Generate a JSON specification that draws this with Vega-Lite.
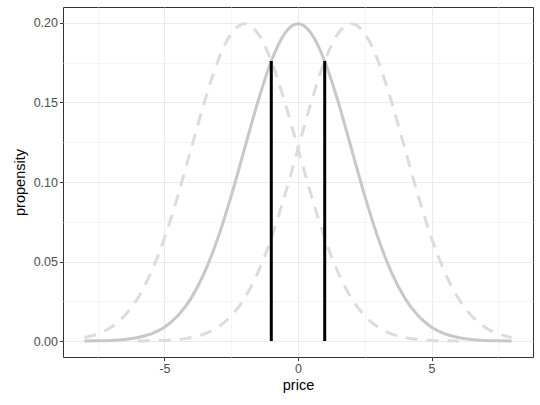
{
  "$schema": "https://vega.github.io/schema/vega-lite/v6.json",
  "width": 470,
  "height": 350,
  "autosize": "none",
  "padding": {"left": 63, "top": 7, "right": 7, "bottom": 48},
  "background": "white",
  "config": {
    "view": {"stroke": "#333333", "strokeWidth": 1},
    "font": "Liberation Sans",
    "axis": {
      "domain": false,
      "labelFont": "Liberation Sans",
      "titleFont": "Liberation Sans",
      "labelFontSize": 12.5,
      "labelColor": "#4d4d4d",
      "titleFontSize": 14.5,
      "titleFontWeight": "normal",
      "titleColor": "#000000",
      "tickColor": "#333333",
      "tickSize": 3.5,
      "labelPadding": 2
    }
  },
  "datasets": {
    "curves": [
      {"x": -8, "y": 0.00007, "s": "center"},
      {"x": -7.5, "y": 0.00018, "s": "center"},
      {"x": -7, "y": 0.00044, "s": "center"},
      {"x": -6.5, "y": 0.00102, "s": "center"},
      {"x": -6, "y": 0.00222, "s": "center"},
      {"x": -5.5, "y": 0.00455, "s": "center"},
      {"x": -5, "y": 0.00876, "s": "center"},
      {"x": -4.5, "y": 0.01587, "s": "center"},
      {"x": -4, "y": 0.027, "s": "center"},
      {"x": -3.5, "y": 0.04314, "s": "center"},
      {"x": -3, "y": 0.06476, "s": "center"},
      {"x": -2.5, "y": 0.09132, "s": "center"},
      {"x": -2, "y": 0.12099, "s": "center"},
      {"x": -1.5, "y": 0.15057, "s": "center"},
      {"x": -1, "y": 0.17603, "s": "center"},
      {"x": -0.5, "y": 0.19333, "s": "center"},
      {"x": 0, "y": 0.19947, "s": "center"},
      {"x": 0.5, "y": 0.19333, "s": "center"},
      {"x": 1, "y": 0.17603, "s": "center"},
      {"x": 1.5, "y": 0.15057, "s": "center"},
      {"x": 2, "y": 0.12099, "s": "center"},
      {"x": 2.5, "y": 0.09132, "s": "center"},
      {"x": 3, "y": 0.06476, "s": "center"},
      {"x": 3.5, "y": 0.04314, "s": "center"},
      {"x": 4, "y": 0.027, "s": "center"},
      {"x": 4.5, "y": 0.01587, "s": "center"},
      {"x": 5, "y": 0.00876, "s": "center"},
      {"x": 5.5, "y": 0.00455, "s": "center"},
      {"x": 6, "y": 0.00222, "s": "center"},
      {"x": 6.5, "y": 0.00102, "s": "center"},
      {"x": 7, "y": 0.00044, "s": "center"},
      {"x": 7.5, "y": 0.00018, "s": "center"},
      {"x": 8, "y": 0.00007, "s": "center"},

      {"x": -8, "y": 0.00222, "s": "left"},
      {"x": -7.5, "y": 0.00455, "s": "left"},
      {"x": -7, "y": 0.00876, "s": "left"},
      {"x": -6.5, "y": 0.01587, "s": "left"},
      {"x": -6, "y": 0.027, "s": "left"},
      {"x": -5.5, "y": 0.04314, "s": "left"},
      {"x": -5, "y": 0.06476, "s": "left"},
      {"x": -4.5, "y": 0.09132, "s": "left"},
      {"x": -4, "y": 0.12099, "s": "left"},
      {"x": -3.5, "y": 0.15057, "s": "left"},
      {"x": -3, "y": 0.17603, "s": "left"},
      {"x": -2.5, "y": 0.19333, "s": "left"},
      {"x": -2, "y": 0.19947, "s": "left"},
      {"x": -1.5, "y": 0.19333, "s": "left"},
      {"x": -1, "y": 0.17603, "s": "left"},
      {"x": -0.5, "y": 0.15057, "s": "left"},
      {"x": 0, "y": 0.12099, "s": "left"},
      {"x": 0.5, "y": 0.09132, "s": "left"},
      {"x": 1, "y": 0.06476, "s": "left"},
      {"x": 1.5, "y": 0.04314, "s": "left"},
      {"x": 2, "y": 0.027, "s": "left"},
      {"x": 2.5, "y": 0.01587, "s": "left"},
      {"x": 3, "y": 0.00876, "s": "left"},
      {"x": 3.5, "y": 0.00455, "s": "left"},
      {"x": 4, "y": 0.00222, "s": "left"},
      {"x": 4.5, "y": 0.00102, "s": "left"},
      {"x": 5, "y": 0.00044, "s": "left"},
      {"x": 5.5, "y": 0.00018, "s": "left"},
      {"x": 6, "y": 0.00007, "s": "left"},

      {"x": -6, "y": 0.00007, "s": "right"},
      {"x": -5.5, "y": 0.00018, "s": "right"},
      {"x": -5, "y": 0.00044, "s": "right"},
      {"x": -4.5, "y": 0.00102, "s": "right"},
      {"x": -4, "y": 0.00222, "s": "right"},
      {"x": -3.5, "y": 0.00455, "s": "right"},
      {"x": -3, "y": 0.00876, "s": "right"},
      {"x": -2.5, "y": 0.01587, "s": "right"},
      {"x": -2, "y": 0.027, "s": "right"},
      {"x": -1.5, "y": 0.04314, "s": "right"},
      {"x": -1, "y": 0.06476, "s": "right"},
      {"x": -0.5, "y": 0.09132, "s": "right"},
      {"x": 0, "y": 0.12099, "s": "right"},
      {"x": 0.5, "y": 0.15057, "s": "right"},
      {"x": 1, "y": 0.17603, "s": "right"},
      {"x": 1.5, "y": 0.19333, "s": "right"},
      {"x": 2, "y": 0.19947, "s": "right"},
      {"x": 2.5, "y": 0.19333, "s": "right"},
      {"x": 3, "y": 0.17603, "s": "right"},
      {"x": 3.5, "y": 0.15057, "s": "right"},
      {"x": 4, "y": 0.12099, "s": "right"},
      {"x": 4.5, "y": 0.09132, "s": "right"},
      {"x": 5, "y": 0.06476, "s": "right"},
      {"x": 5.5, "y": 0.04314, "s": "right"},
      {"x": 6, "y": 0.027, "s": "right"},
      {"x": 6.5, "y": 0.01587, "s": "right"},
      {"x": 7, "y": 0.00876, "s": "right"},
      {"x": 7.5, "y": 0.00455, "s": "right"},
      {"x": 8, "y": 0.00222, "s": "right"}
    ],
    "rules": [
      {"x": -1, "y": 0, "y2": 0.17603},
      {"x": 1, "y": 0, "y2": 0.17603}
    ]
  },
  "layer": [
    {
      "data": {"name": "curves"},
      "transform": [{"filter": "datum.s !== 'center'"}],
      "mark": {"type": "line", "interpolate": "monotone", "color": "#dcdcdc", "strokeWidth": 3, "strokeDash": [12, 9], "clip": true},
      "encoding": {
        "x": {
          "field": "x", "type": "quantitative",
          "scale": {"domain": [-8.8, 8.8], "nice": false, "zero": false},
          "axis": {
            "title": "price",
            "values": [-7.5, -5, -2.5, 0, 2.5, 5, 7.5],
            "labelExpr": "datum.value % 5 === 0 ? '' + datum.value : ''",
            "gridColor": {"condition": {"test": "datum.value % 5 === 0", "value": "#ebebeb"}, "value": "#f5f5f5"},
            "tickOpacity": {"condition": {"test": "datum.value % 5 === 0", "value": 1}, "value": 0},
            "titlePadding": 3
          }
        },
        "y": {
          "field": "y", "type": "quantitative",
          "scale": {"domain": [-0.01, 0.21], "nice": false, "zero": false},
          "axis": {
            "title": "propensity",
            "values": [0, 0.025, 0.05, 0.075, 0.1, 0.125, 0.15, 0.175, 0.2],
            "labelExpr": "round(datum.value * 1000) % 50 === 0 ? format(datum.value, '.2f') : ''",
            "gridColor": {"condition": {"test": "round(datum.value * 1000) % 50 === 0", "value": "#ebebeb"}, "value": "#f5f5f5"},
            "tickOpacity": {"condition": {"test": "round(datum.value * 1000) % 50 === 0", "value": 1}, "value": 0},
            "titlePadding": 6
          }
        },
        "detail": {"field": "s"}
      }
    },
    {
      "data": {"name": "curves"},
      "transform": [{"filter": "datum.s === 'center'"}],
      "mark": {"type": "line", "interpolate": "monotone", "color": "#c8c8c8", "strokeWidth": 3},
      "encoding": {
        "x": {"field": "x", "type": "quantitative"},
        "y": {"field": "y", "type": "quantitative"}
      }
    },
    {
      "data": {"name": "rules"},
      "mark": {"type": "rule", "color": "#000000", "strokeWidth": 3},
      "encoding": {
        "x": {"field": "x", "type": "quantitative"},
        "y": {"field": "y", "type": "quantitative"},
        "y2": {"field": "y2"}
      }
    }
  ]
}
